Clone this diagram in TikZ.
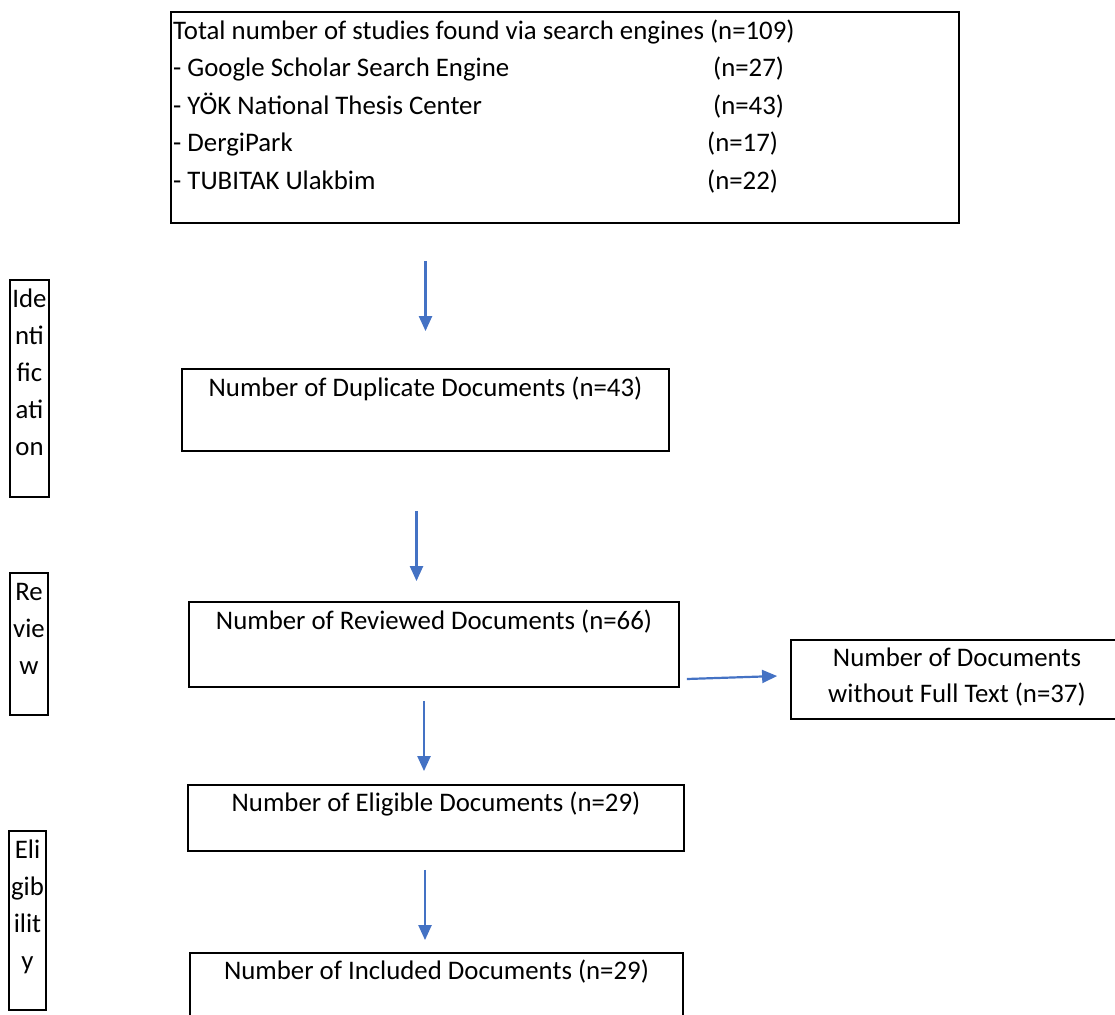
\documentclass[tikz,border=0pt]{standalone}
\usepackage{fontspec}
\setmainfont{Carlito}
\usepackage{xcolor}
\usetikzlibrary{arrows.meta}
\definecolor{flowblue}{HTML}{4472C4}

\begin{document}
\begin{tikzpicture}[x=1pt,y=-1pt]
\tikzstyle{every node}+=[inner sep=0pt, font=\fontsize{26.8}{37}\selectfont]
\tikzstyle{box}=[draw=black, line width=1.8pt, inner sep=0pt]
\tikzstyle{boxtext}=[anchor=base, align=center]
\tikzstyle{arr}=[draw=flowblue, line width=2.2pt, -{Triangle[width=13pt,length=15pt]}]
\useasboundingbox (0,0) rectangle (1115,1014);
\clip (0,0) rectangle (1115,1014);
% boxes of the flow
\node[box, minimum width=788pt, minimum height=211pt] (search) at (565,117.5) {};
\node[box, minimum width=487pt, minimum height=82pt] (dup) at (425.5,410) {};
\node[box, minimum width=490pt, minimum height=85pt] (rev) at (434,644.5) {};
\node[box, minimum width=332pt, minimum height=79pt] (nofull) at (957,679.5) {};
\node[box, minimum width=496pt, minimum height=66pt] (elig) at (436,818) {};
\node[box, minimum width=493pt, minimum height=80pt] (incl) at (436.5,993) {};
% stage boxes on the left
\node[box, minimum width=39pt, minimum height=217pt] (identB) at (29.5,388.5) {};
\node[box, minimum width=38pt, minimum height=142pt] (reviewB) at (29,644) {};
\node[box, minimum width=37pt, minimum height=179pt] (eligB) at (27.5,920.5) {};
% search box lines
\node[anchor=base west] (total) at (173,40) {Total number of studies found via search engines (n=109)};
\node[anchor=base west] (google) at (173,77) {- Google Scholar Search Engine};
\node[anchor=base west] (googleN) at (713,77) {(n=27)};
\node[anchor=base west] (yok) at (173,114) {- YÖK National Thesis Center};
\node[anchor=base west] (yokN) at (713,114) {(n=43)};
\node[anchor=base west] (dergi) at (173,151) {- DergiPark};
\node[anchor=base west] (dergiN) at (707,151) {(n=17)};
\node[anchor=base west] (tubitak) at (173,189) {- TUBITAK Ulakbim};
\node[anchor=base west] (tubitakN) at (707,189) {(n=22)};
% box texts (base = last line)
\node[boxtext] (dupT) at ([yshift=-28pt]dup.north) {Number of Duplicate Documents (n=43)};
\node[boxtext] (revT) at ([yshift=-28pt]rev.north) {Number of Reviewed Documents (n=66)};
\node[boxtext, font=\fontsize{26.8}{36}\selectfont] (nofullT) at ([yshift=-63pt]nofull.north) {Number of Documents\\without Full Text (n=37)};
\node[boxtext] (eligT) at ([yshift=-27pt]elig.north) {Number of Eligible Documents (n=29)};
\node[boxtext] (inclT) at ([yshift=-27pt]incl.north) {Number of Included Documents (n=29)};
\node[boxtext] (identT) at ([yshift=-176pt]identB.north) {Ide\\nti\\fic\\ati\\on};
\node[boxtext] (reviewT) at ([yshift=-102pt]reviewB.north) {Re\\vie\\w};
\node[boxtext] (eligBT) at ([yshift=-139pt]eligB.north) {Eli\\gib\\ilit\\y};
% arrows
\draw[arr, shorten <=37pt, shorten >=37pt] (search.south -| dup.north) -- (dup.north);
\draw[arr, shorten <=59pt, shorten >=20pt] ([xshift=-9pt]dup.south) -- ([xshift=-9pt]dup.south |- rev.north);
\draw[arr] ([xshift=7pt,yshift=-34.5pt]rev.east) -- ([xshift=-13pt,yshift=3.5pt]nofull.west);
\draw[arr, shorten <=13pt, shorten >=13pt] ([xshift=-10pt]rev.south) -- ([xshift=-10pt]rev.south |- elig.north);
\draw[arr, shorten <=18pt, shorten >=12pt] ([xshift=-11pt]elig.south) -- ([xshift=-11pt]elig.south |- incl.north);
\end{tikzpicture}
\end{document}
